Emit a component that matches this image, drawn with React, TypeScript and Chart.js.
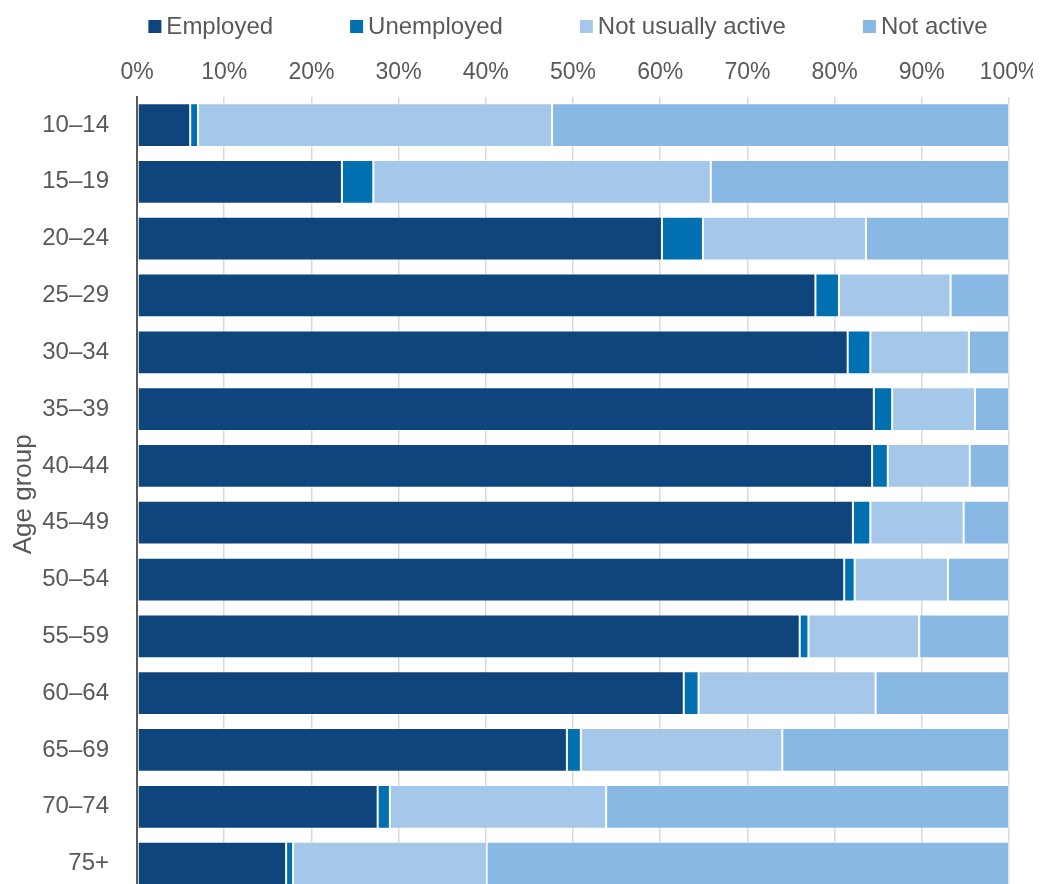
import React, { useEffect, useRef } from "react";
import { Chart, registerables } from "chart.js";

Chart.register(...registerables);

const categories = ["10–14", "15–19", "20–24", "25–29", "30–34", "35–39", "40–44", "45–49", "50–54", "55–59", "60–64", "65–69", "70–74", "75+"];
const employed = [6.1, 23.5, 60.2, 77.8, 81.5, 84.5, 84.3, 82.1, 81.1, 76.0, 62.7, 49.3, 27.6, 17.1];
const unemployed = [0.9, 3.6, 4.7, 2.7, 2.6, 2.1, 1.8, 2.0, 1.2, 1.0, 1.7, 1.6, 1.4, 0.8];
const notUsuallyActive = [40.6, 38.7, 18.7, 12.8, 11.3, 9.5, 9.4, 10.7, 10.7, 12.7, 20.3, 23.1, 24.8, 22.2];
const notActive = [52.4, 34.2, 16.4, 6.7, 4.6, 3.9, 4.5, 5.2, 7.0, 10.3, 15.3, 26.0, 46.2, 59.9];
const seriesNames = ["Employed", "Unemployed", "Not usually active", "Not active"];
const seriesColors = ["#0E457C", "#0070B0", "#A4C7EA", "#88B9E4"];
const xTicks = [0, 10, 20, 30, 40, 50, 60, 70, 80, 90, 100];

const FONT = "'Liberation Sans', Arial, sans-serif";
const TEXT = "#595959";

const legendPlugin = {
  id: "customLegend",
  afterDraw(chart: any) {
    const ctx = chart.ctx;
    const area = chart.chartArea;
    ctx.save();
    ctx.font = `24px ${FONT}`;
    ctx.textBaseline = "middle";
    const box = 13, gap = 5, spacing = 77;
    const items = chart.data.datasets.map((d: any) => ({ text: d.label, color: d.backgroundColor }));
    const widths = items.map((it: any) => box + gap + ctx.measureText(it.text).width);
    const total = widths.reduce((a: number, b: number) => a + b, 0) + spacing * (items.length - 1);
    let x = (area.left + area.right) / 2 - total / 2 - 5;
    const cy = 18.5;
    items.forEach((it: any, i: number) => {
      ctx.fillStyle = it.color;
      ctx.fillRect(x, cy - box / 2, box, box);
      ctx.fillStyle = TEXT;
      ctx.fillText(it.text, x + box + gap, cy + 0.5);
      x += widths[i] + spacing;
    });
    ctx.restore();
  },
};

export default function App() {
  const ref = useRef<HTMLCanvasElement | null>(null);
  useEffect(() => {
    document.documentElement.style.overflow = "hidden";
    document.body.style.overflow = "hidden";
    if (!ref.current) return;
    const values = [employed, unemployed, notUsuallyActive, notActive];
    const chart = new Chart(ref.current, {
      type: "bar",
      data: {
        labels: categories,
        datasets: seriesNames.map((name, i) => ({
          label: name,
          data: values[i],
          backgroundColor: seriesColors[i],
          borderColor: "rgba(255,255,255,0.35)",
          borderWidth: 1,
          borderSkipped: false,
          categoryPercentage: 1,
          barPercentage: 0.77,
        })),
      },
      options: {
        indexAxis: "y",
        responsive: false,
        animation: false,
        layout: { padding: { top: 41, right: 40, bottom: 0, left: 0 } },
        plugins: {
          legend: { display: false },
          tooltip: { enabled: false },
        },
        scales: {
          x: {
            stacked: true,
            position: "top",
            min: 0,
            max: 100,
            afterBuildTicks: (scale: any) => {
              scale.ticks = xTicks.map((v) => ({ value: v }));
            },
            afterFit: (scale: any) => {
              scale.paddingLeft = 0;
              scale.paddingRight = 0;
            },
            ticks: {
              callback: (v: any) => v + "%",
              color: TEXT,
              font: { family: FONT, size: 23 },
              padding: 10,
              maxRotation: 0,
              autoSkip: false,
            },
            grid: { color: "#D9D9D9", lineWidth: 1.5, drawTicks: false },
            border: { display: false },
          },
          y: {
            stacked: true,
            afterFit: (scale: any) => {
              scale.width = 129;
              scale.paddingTop = 0;
              scale.paddingBottom = 0;
            },
            ticks: {
              color: TEXT,
              font: { family: FONT, size: 24 },
              padding: 28,
              autoSkip: false,
            },
            grid: { display: false, drawTicks: false },
            border: { display: true, color: "#595959", width: 2 },
            title: {
              display: true,
              text: "Age group",
              color: TEXT,
              font: { family: FONT, size: 26 },
              padding: { top: 0, bottom: 0 },
            },
          },
        },
      },
      plugins: [legendPlugin],
    });
    return () => chart.destroy();
  }, []);
  return (
    <div style={{ width: 1041, height: 884 }}>
      <canvas ref={ref} width={1041} height={884} style={{ display: "block" }} />
    </div>
  );
}
